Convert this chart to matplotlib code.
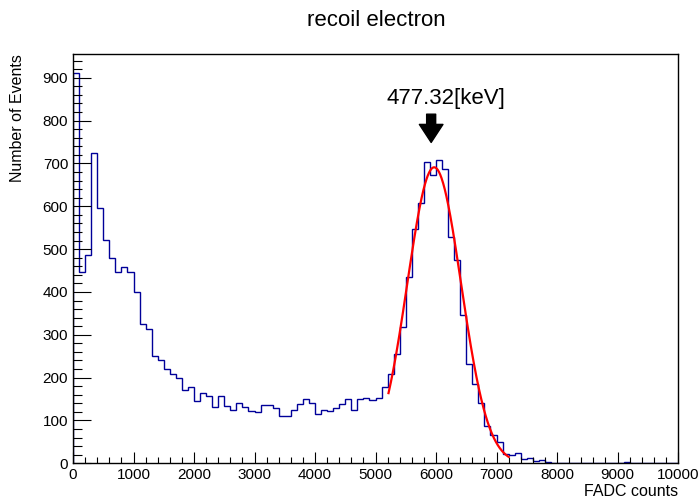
import numpy as np
import matplotlib
matplotlib.use('Agg')
import matplotlib.pyplot as plt
from matplotlib.ticker import MultipleLocator

plt.rcParams['font.family'] = ['Liberation Sans', 'DejaVu Sans']

# histogram: 100 bins of 100 FADC counts
bin_edges = np.arange(0, 10001, 100)
counts = [910, 446, 487, 725, 596, 522, 479, 447, 459, 447,
          399, 326, 314, 250, 240, 219, 208, 198, 172, 177,
          146, 163, 158, 131, 156, 133, 124, 141, 132, 121,
          120, 136, 137, 129, 110, 110, 125, 138, 149, 140,
          114, 125, 121, 128, 138, 150, 124, 150, 152, 148,
          153, 179, 208, 256, 319, 436, 548, 608, 704, 674,
          708, 686, 529, 474, 347, 231, 184, 140, 86, 65,
          50, 21, 20, 23, 10, 12, 5, 8, 2, 1,
          0, 1, 0, 0, 1, 1, 0, 0, 1, 1,
          0, 2, 1, 1, 0, 1, 0, 1, 1, 0]

# gaussian fit
fit_const = 691
fit_mean = 5970
fit_sigma = 445
fit_min = 5215
fit_max = 7200

peak_label = "477.32[keV]"

fig = plt.figure(figsize=(7, 4.99), dpi=100)
ax = fig.add_axes([73/700, 1-463.3/499, 605/700, 409.3/499])

ax.stairs(counts, bin_edges, color='#000099', linewidth=1, baseline=0)

fx = np.linspace(fit_min, fit_max, 300)
fy = fit_const * np.exp(-0.5 * ((fx - fit_mean) / fit_sigma) ** 2)
ax.plot(fx, fy, color='red', linewidth=1.6)

ax.set_xlim(0, 10000)
ax.set_ylim(0, max(counts) * 1.05)

ax.xaxis.set_major_locator(MultipleLocator(1000))
ax.xaxis.set_minor_locator(MultipleLocator(200))
ax.yaxis.set_major_locator(MultipleLocator(100))
ax.yaxis.set_minor_locator(MultipleLocator(20))
ax.tick_params(axis='both', which='both', direction='in', labelsize=11, pad=3.5, width=0.8)
ax.tick_params(axis='x', which='major', length=8)
ax.tick_params(axis='x', which='minor', length=4)
ax.tick_params(axis='y', which='major', length=13)
ax.tick_params(axis='y', which='minor', length=6.5)
for s in ax.spines.values():
    s.set_linewidth(1)

ax.set_xlabel("FADC counts", fontsize=11.5, loc='right')
ax.xaxis.set_label_coords(1.0, -0.07)
ax.xaxis.label.set_va('center')
ax.set_ylabel("Number of Events", fontsize=11.5, loc='top')
ax.yaxis.set_label_coords(-0.091, 1.0)
ax.yaxis.label.set_va('center')

fig.text(376/700, 1-20/499, "recoil electron", ha='center', va='center', fontsize=16)

# marker arrow and energy label
ax.annotate('', xy=(5920, 749), xytext=(5920, 815),
            arrowprops=dict(arrowstyle='simple,head_width=1.7,head_length=1.3,tail_width=0.65',
                            color='black', shrinkA=0, shrinkB=0))
ax.text(6169, 851, peak_label, ha='center', va='center', fontsize=16)

plt.savefig('out.png', dpi=100)
